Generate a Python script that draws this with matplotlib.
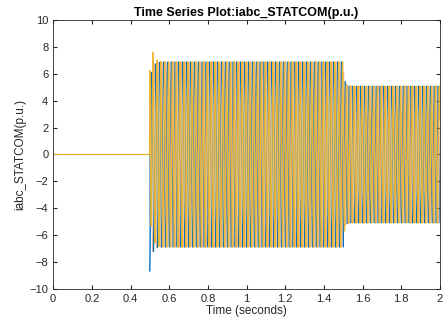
import numpy as np
import matplotlib
matplotlib.use('Agg')
from matplotlib import pyplot as plt

# waveform segments
seg_start = [0.0, 0.5, 1.5]        # s
seg_amp = [0.0, 6.9, 5.1]          # p.u. peak
freq = 50.0                        # Hz
phase_shift = [0.0, 2 * np.pi / 3, -2 * np.pi / 3]
# decaying offsets at switch-on (blue, red, yellow)
dc_offset = [-1.8, -1.0, 2.8]
dc_tau = 0.012
t_end = 2.0

colors = ['#0072BD', '#D95319', '#EDB120']
widths = [0.5, 0.35, 0.9]
alphas = [1.0, 0.5, 0.9]

t = np.linspace(0, t_end, 40001)
amp = np.zeros_like(t)
amp[t >= seg_start[1]] = seg_amp[1]
late = t >= seg_start[2]
amp[late] = seg_amp[2] + (seg_amp[1] - seg_amp[2]) * np.exp(-(t[late] - seg_start[2]) / 0.006)

on = t >= seg_start[1]
plt.rcParams['font.family'] = ['Liberation Sans', 'DejaVu Sans']
fig = plt.figure(figsize=(4.43, 3.28), dpi=100)
ax = fig.add_axes([0.12, 0.119, 0.873, 0.82])

for k in range(3):
    y = amp * np.sin(2 * np.pi * freq * (t - seg_start[1]) - np.pi / 2 + phase_shift[k])
    y[on] += dc_offset[k] * np.exp(-(t[on] - seg_start[1]) / dc_tau)
    y[~on] = 0.0
    ax.plot(t, y, color=colors[k], linewidth=widths[k], alpha=alphas[k])

ax.set_xlim(0, 2)
ax.set_ylim(-10, 10)
ax.set_xticks(np.arange(0, 2.01, 0.2))
ax.set_xticklabels(['0', '0.2', '0.4', '0.6', '0.8', '1', '1.2', '1.4', '1.6', '1.8', '2'])
ax.set_yticks(np.arange(-10, 11, 2))
ax.tick_params(direction='in', length=3, top=True, right=True, labelsize=8, colors='#262626')
for s in ax.spines.values():
    s.set_color('#262626')
    s.set_linewidth(0.6)
ax.set_xlabel('Time (seconds)', fontsize=8.5, labelpad=1, color='#262626')
ax.set_ylabel('iabc_STATCOM(p.u.)', fontsize=8.5, labelpad=2, color='#262626')
ax.set_title('Time Series Plot:iabc_STATCOM(p.u.)', fontsize=9, fontweight='bold', pad=3)

fig.savefig('out.png', dpi=100)
